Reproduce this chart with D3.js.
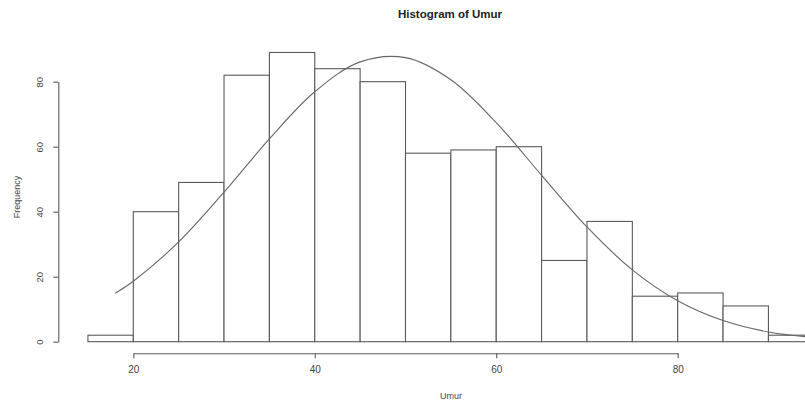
<!DOCTYPE html>
<html>
<head>
<meta charset="utf-8">
<script src="https://cdn.jsdelivr.net/npm/d3@7"></script>
<style>
  html, body { margin: 0; padding: 0; background: #fff; }
  svg { display: block; font-family: "Liberation Sans", Arial, sans-serif; }
</style>
</head>
<body>
<svg id="chart" width="805" height="406"></svg>
<script>
// Data
const binStarts = [15, 20, 25, 30, 35, 40, 45, 50, 55, 60, 65, 70, 75, 80, 85, 90];
const binWidth = 5;
const counts    = [2, 40, 49, 82, 89, 84, 80, 58, 59, 60, 25, 37, 14, 15, 11, 2];
const curveX = [18, 20, 25, 30, 35, 40, 45, 50, 55, 60, 65, 70, 75, 80, 85, 90, 95, 100];
const curveY = [14.9, 18.6, 30.7, 46.0, 62.4, 76.9, 86.1, 87.4, 80.6, 67.4, 51.2, 35.3, 22.1, 12.6, 6.5, 3.0, 1.3, 0.5];
const xTicks = [20, 40, 60, 80];
const yTicks = [0, 20, 40, 60, 80];

const svg = d3.select("#chart");
const x = d3.scaleLinear().domain([20, 80]).range([133.3, 677.7]);
const y = d3.scaleLinear().domain([0, 80]).range([341.7, 81.7]);

const ink = "#5a5a5a";

// Bars
svg.append("g")
  .selectAll("rect")
  .data(binStarts.map((s, i) => ({ s, c: counts[i] })))
  .join("rect")
  .attr("x", d => x(d.s))
  .attr("y", d => y(d.c))
  .attr("width", d => x(d.s + binWidth) - x(d.s))
  .attr("height", d => y(0) - y(d.c))
  .attr("fill", "#fff")
  .attr("stroke", ink)
  .attr("stroke-width", 1.1);

// Normal curve
const line = d3.line()
  .x((d, i) => x(curveX[i]))
  .y(d => y(d))
  .curve(d3.curveCatmullRom);
svg.append("path")
  .attr("d", line(curveY))
  .attr("fill", "none")
  .attr("stroke", "#666")
  .attr("stroke-width", 1.1);

// X axis
const xAxis = svg.append("g")
  .attr("transform", "translate(0,353.3)")
  .call(d3.axisBottom(x).tickValues(xTicks).tickSize(5).tickPadding(8).tickSizeOuter(0));
xAxis.select(".domain").attr("stroke", ink).attr("stroke-width", 1.1);
xAxis.selectAll(".tick line").attr("stroke", ink).attr("stroke-width", 1.1);
xAxis.selectAll(".tick text").attr("fill", "#444").attr("font-size", "10px")
  .attr("font-family", "Liberation Sans, Arial, sans-serif");

// Y axis
const yAxis = svg.append("g")
  .attr("transform", "translate(58.3,0)")
  .call(d3.axisLeft(y).tickValues(yTicks).tickSize(5).tickSizeOuter(0));
yAxis.select(".domain").attr("stroke", ink).attr("stroke-width", 1.1);
yAxis.selectAll(".tick line").attr("stroke", ink).attr("stroke-width", 1.1);
yAxis.selectAll(".tick text")
  .attr("fill", "#444").attr("font-size", "9.5px")
  .attr("font-family", "Liberation Sans, Arial, sans-serif")
  .attr("x", null).attr("dy", null)
  .attr("transform", "translate(-18,0) rotate(-90)")
  .attr("text-anchor", "middle")
  .attr("dominant-baseline", "middle");

// Title
svg.append("text")
  .attr("x", 450).attr("y", 15)
  .attr("text-anchor", "middle").attr("dominant-baseline", "middle")
  .attr("font-weight", "bold").attr("font-size", "11.5px").attr("fill", "#222")
  .text("Histogram of Umur");

// X label
svg.append("text")
  .attr("x", 451).attr("y", 397)
  .attr("text-anchor", "middle").attr("dominant-baseline", "middle")
  .attr("font-size", "9px").attr("fill", "#444")
  .text("Umur");

// Y label
svg.append("text")
  .attr("transform", "translate(18,197) rotate(-90)")
  .attr("text-anchor", "middle").attr("dominant-baseline", "middle")
  .attr("font-size", "9px").attr("fill", "#444")
  .text("Frequency");
</script>
</body>
</html>
